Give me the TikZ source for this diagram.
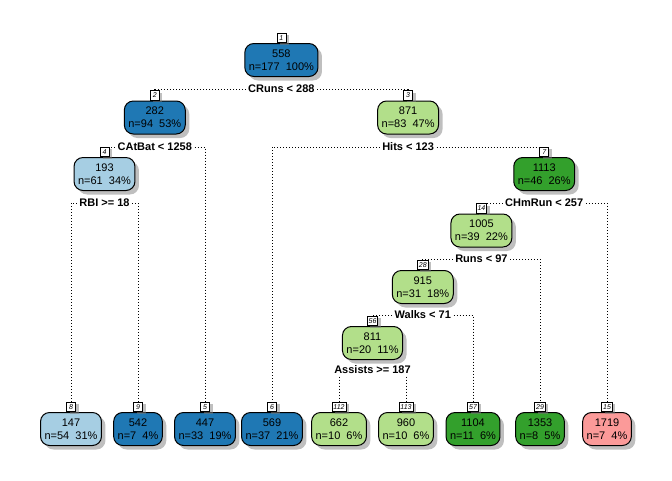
\documentclass[tikz,border=0pt]{standalone}
\usepackage{fontspec}
\setmainfont{Liberation Sans}
\usepackage{tikz}
\usetikzlibrary{shadows}
\usepackage{xcolor}
\definecolor{trlightblue}{RGB}{166,206,227}
\definecolor{trblue}{RGB}{31,120,180}
\definecolor{trlightgreen}{RGB}{178,223,138}
\definecolor{trgreen}{RGB}{51,160,44}
\definecolor{trpink}{RGB}{251,154,153}
\tikzstyle{treenode} = [rectangle, draw=black, line width=1pt, rounded corners=9pt, minimum height=33pt, inner xsep=4pt, align=center, font=\fontsize{11}{13}\selectfont, drop shadow={shadow xshift=4pt, shadow yshift=-4pt, fill=black!50, opacity=0.5}]
\tikzstyle{nodenum} = [rectangle, draw=black, line width=0.8pt, fill=white, minimum width=9pt, minimum height=9.5pt, inner sep=1.5pt, anchor=south, font=\fontsize{7}{7}\selectfont\itshape, drop shadow={shadow xshift=3pt, shadow yshift=-2pt, fill=black!50, opacity=0.5}]
\tikzstyle{splitlabel} = [font=\fontsize{11}{13}\selectfont\bfseries, inner sep=2.5pt]
\tikzstyle{branch} = [line width=1pt, dash pattern=on 1pt off 2pt]

\begin{document}
\begin{tikzpicture}[x=1pt, y=-1pt]
    \useasboundingbox (0,0) rectangle (672,480);

    % Root
    \node[treenode, fill=trblue] (n1) at (281.4, 60) {558\\n=177~~100\%};
    \node[nodenum] (b1) at (n1.north) {1};
    \node[splitlabel] (s1) at (281.4, 89) {CRuns < 288};

    % Level 1
    \node[treenode, fill=trblue] (n2) at (154.8, 117.5) {282\\n=94~~53\%};
    \node[nodenum] (b2) at (n2.north) {2};
    \node[splitlabel] (s2) at (154.8, 147) {CAtBat < 1258};
    \node[treenode, fill=trlightgreen] (n3) at (408.1, 117.5) {871\\n=83~~47\%};
    \node[nodenum] (b3) at (n3.north) {3};
    \node[splitlabel] (s3) at (408.1, 147) {Hits < 123};

    % Level 2
    \node[treenode, fill=trlightblue] (n4) at (104.5, 174) {193\\n=61~~34\%};
    \node[nodenum] (b4) at (n4.north) {4};
    \node[splitlabel] (s4) at (104.5, 203) {RBI >= 18};
    \node[treenode, fill=trgreen] (n7) at (544.2, 174) {1113\\n=46~~26\%};
    \node[nodenum] (b7) at (n7.north) {7};
    \node[splitlabel] (s7) at (544.2, 203) {CHmRun < 257};

    % Levels 3 to 5
    \node[treenode, fill=trlightgreen] (n14) at (481.4, 230.5) {1005\\n=39~~22\%};
    \node[nodenum] (b14) at (n14.north) {14};
    \node[splitlabel] (s14) at (481.4, 259) {Runs < 97};
    \node[treenode, fill=trlightgreen] (n28) at (422.8, 287) {915\\n=31~~18\%};
    \node[nodenum] (b28) at (n28.north) {28};
    \node[splitlabel] (s28) at (422.8, 315) {Walks < 71};
    \node[treenode, fill=trlightgreen] (n56) at (372.5, 343) {811\\n=20~~11\%};
    \node[nodenum] (b56) at (n56.north) {56};
    \node[splitlabel] (s56) at (372.5, 370) {Assists >= 187};

    % Leaves
    \node[treenode, fill=trlightblue] (n8) at (71, 429) {147\\n=54~~31\%};
    \node[nodenum] (b8) at (n8.north) {8};
    \node[treenode, fill=trblue] (n9) at (138, 429) {542\\n=7~~4\%};
    \node[nodenum] (b9) at (n9.north) {9};
    \node[treenode, fill=trblue] (n5) at (205, 429) {447\\n=33~~19\%};
    \node[nodenum] (b5) at (n5.north) {5};
    \node[treenode, fill=trblue] (n6) at (272, 429) {569\\n=37~~21\%};
    \node[nodenum] (b6) at (n6.north) {6};
    \node[treenode, fill=trlightgreen] (n112) at (339, 429) {662\\n=10~~6\%};
    \node[nodenum] (b112) at (n112.north) {112};
    \node[treenode, fill=trlightgreen] (n113) at (406, 429) {960\\n=10~~6\%};
    \node[nodenum] (b113) at (n113.north) {113};
    \node[treenode, fill=trgreen] (n57) at (473, 429) {1104\\n=11~~6\%};
    \node[nodenum] (b57) at (n57.north) {57};
    \node[treenode, fill=trgreen] (n29) at (540, 429) {1353\\n=8~~5\%};
    \node[nodenum] (b29) at (n29.north) {29};
    \node[treenode, fill=trpink] (n15) at (607, 429) {1719\\n=7~~4\%};
    \node[nodenum] (b15) at (n15.north) {15};

    % Branches
    \draw[branch] (s1.west) -| (b2.north);
    \draw[branch] (s1.east) -| (b3.north);
    \draw[branch] (s2.west) -| (b4.north);
    \draw[branch] (s2.east) -| (b5.north);
    \draw[branch] (s3.west) -| (b6.north);
    \draw[branch] (s3.east) -| (b7.north);
    \draw[branch] (s4.west) -| (b8.north);
    \draw[branch] (s4.east) -| (b9.north);
    \draw[branch] (s7.west) -| (b14.north);
    \draw[branch] (s7.east) -| (b15.north);
    \draw[branch] (s14.west) -| (b28.north);
    \draw[branch] (s14.east) -| (b29.north);
    \draw[branch] (s28.west) -| (b56.north);
    \draw[branch] (s28.east) -| (b57.north);
    \draw[branch] (s56.south -| b112.north) -- (b112.north);
    \draw[branch] (s56.south -| b113.north) -- (b113.north);
\end{tikzpicture}
\end{document}
